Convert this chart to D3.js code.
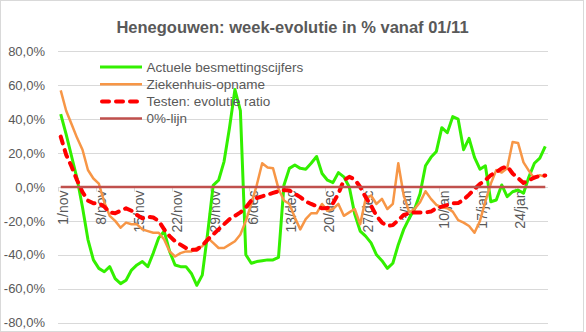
<!DOCTYPE html>
<html><head><meta charset="utf-8">
<script src="https://cdn.jsdelivr.net/npm/d3@7"></script>
<style>body{margin:0;background:#fff}svg{display:block}text{font-family:"Liberation Sans",Arial,sans-serif}</style>
</head><body><svg id="c" width="586" height="332"></svg>
<script>
const categories = [
"1/nov","2/nov","3/nov","4/nov","5/nov","6/nov","7/nov","8/nov","9/nov","10/nov",
"11/nov","12/nov","13/nov","14/nov","15/nov","16/nov","17/nov","18/nov","19/nov","20/nov",
"21/nov","22/nov","23/nov","24/nov","25/nov","26/nov","27/nov","28/nov","29/nov","30/nov",
"1/dec","2/dec","3/dec","4/dec","5/dec","6/dec","7/dec","8/dec","9/dec","10/dec",
"11/dec","12/dec","13/dec","14/dec","15/dec","16/dec","17/dec","18/dec","19/dec","20/dec",
"21/dec","22/dec","23/dec","24/dec","25/dec","26/dec","27/dec","28/dec","29/dec","30/dec","31/dec",
"1/jan","2/jan","3/jan","4/jan","5/jan","6/jan","7/jan","8/jan","9/jan","10/jan",
"11/jan","12/jan","13/jan","14/jan","15/jan","16/jan","17/jan","18/jan","19/jan","20/jan",
"21/jan","22/jan","23/jan","24/jan","25/jan","26/jan","27/jan","28/jan","29/jan"];
const tickLabels = ["1/nov","8/nov","15/nov","22/nov","29/nov","6/dec","13/dec","20/dec","27/dec","3/jan","10/jan","17/jan","24/jan"];
const yTicks = [-80,-60,-40,-20,0,20,40,60,80];
const seriesNames = ["Actuele besmettingscijfers","Ziekenhuis-opname","Testen: evolutie ratio","0%-lijn"];

const besmetting = [43,31,18,5,-12,-31,-43,-48,-50,-47, -54,-57,-55,-49,-46,-44,-47,-39,-30,-26,
 -38,-46,-47,-47,-51,-58,-52,-27,1,4, 15,35,57.5,45,-40,-45,-44,-43.5,-43,-43,
 -41.5,1,11,13,11,10.5,14,18,8,4, 2.6,8.5,6,0,-16,-26,-29,-33,-40,-43.5,
 -48,-45,-34,-25,-18.5,-13,-4,12.5,17.5,21, 35,32,41.5,40,22,28.7,17.5,10.5,12.5,-8.7,
 -7.7,1.2,-5.7,-2.8,-1.8,-3.7,6,14,17,24];
const ziekenhuis = [57,45,37,29,22,10,5,2,-9,-17, -20,-24,-21,-22,-22,-25,-26,-27,-27,-31,
 -38,-41,-39,-38,-38,-36,-35,-30,-33,-36, -36,-34,-32,-28,-20,-10,1,14,11.5,11,
 -1,-8,-10,-18,-25,-19,-15.5,-15.5,-10,-14, -13,-10,-17,-15,-13,-22,-7,-5,-10,-7,
 -13,-10,14,-5,-15,-13,-9,-2.5,-7,-10.5, -12,-12.5,-14.5,-19.5,-21,-23,-27,-20,-8.5,2,
 10,8.5,11,26.5,26,14.5,9.5,5,7,6];
const testen = [29.7,19,12,4,-3,-8,-9.6,-9.6,-11.6,-15, -15.5,-14,-12.6,-14,-16.5,-18.5,-17.5,-18,-20,-25,
 -29,-32,-34,-36,-37,-37,-34.5,-31,-28,-25, -22,-19,-17,-15,-12,-8,-6.5,-5.5,-4.5,-3.5,
 -2.5,-1.8,-2,-4,-6,-8.5,-10,-11.3,-12.6,-12.4, -9.6,-4,4,6,4.5,0,-6,-11,-17,-21,
 -23,-22.5,-19.5,-16.5,-15.5,-15,-15,-15,-14.5,-12.5, -11.6,-10.6,-9.6,-9.5,-7.5,-4.5,-1.2,1.8,4,7,
 8.8,11,12.2,8,5.2,2.4,3.9,5.6,6.5,6.8];
const nulLijn = [0,0,0,0,0,0,0,0,0,0, 0,0,0,0,0,0,0,0,0,0, 0,0,0,0,0,0,0,0,0,0,
 0,0,0,0,0,0,0,0,0,0, 0,0,0,0,0,0,0,0,0,0, 0,0,0,0,0,0,0,0,0,0,
 0,0,0,0,0,0,0,0,0,0, 0,0,0,0,0,0,0,0,0,0, 0,0,0,0,0,0,0,0,0,0];

const TXT = "#595959", GRID = "#d9d9d9";
const svg = d3.select("#c");
const x = d3.scaleBand().domain(categories).range([58, 548]).padding(0);
const y = d3.scaleLinear().domain([-80, 80]).range([322.6, 51.4]);
const xc = d => x(d) + x.bandwidth() / 2;

svg.append("rect").attr("x",0.5).attr("y",0.5).attr("width",583).attr("height",331)
  .attr("fill","#fff").attr("stroke",GRID);

// title
svg.append("text").attr("x",292.5).attr("y",33).attr("text-anchor","middle")
  .attr("font-size","16.5px").attr("font-weight","bold").attr("fill",TXT)
  .text("Henegouwen: week-evolutie in % vanaf 01/11");

// gridlines
svg.append("g").selectAll("line").data(yTicks).join("line")
  .attr("x1",58).attr("x2",548).attr("y1",d=>Math.round(y(d))+0.5).attr("y2",d=>Math.round(y(d))+0.5)
  .attr("stroke",GRID).attr("stroke-width",1);

// y axis
const fmt = v => (v < 0 ? "-" : "") + Math.abs(v).toFixed(1).replace(".", ",") + "%";
const ya = svg.append("g").attr("transform","translate(58,0)")
  .call(d3.axisLeft(y).tickValues(yTicks).tickFormat(fmt).tickSize(0).tickPadding(13));
ya.select(".domain").remove();
ya.selectAll("text").attr("font-size","13px").attr("fill",TXT).attr("font-family",null);

// x axis (at 0)
const y0 = Math.round(y(0)) + 0.5;
svg.append("line").attr("x1",58).attr("x2",548).attr("y1",y0).attr("y2",y0).attr("stroke",GRID);
svg.append("g").selectAll("line").data(tickLabels).join("line")
  .attr("x1",d=>Math.round(x(d))+0.5).attr("x2",d=>Math.round(x(d))+0.5)
  .attr("y1",y0).attr("y2",y0+4).attr("stroke",GRID);
const xa = svg.append("g").attr("transform",`translate(0,${y0})`)
  .call(d3.axisBottom(x).tickValues(tickLabels).tickSize(0));
xa.select(".domain").remove();
xa.selectAll("text").attr("font-size","14px").attr("fill",TXT).attr("font-family",null)
  .attr("text-anchor","end").attr("y",0).attr("dy","0.35em")
  .attr("transform","translate(2,3) rotate(-90)");

// series
const line = d3.line().x((d,i)=>xc(categories[i])).y(d=>y(d));
const styles = [
  {data: besmetting, color:"#33f000", w:3, dash:null},
  {data: ziekenhuis, color:"#f79646", w:2.5, dash:null},
  {data: testen, color:"#ff0000", w:4, dash:"7,7"},
  {data: nulLijn, color:"#c0504d", w:2.5, dash:null}
];
styles.forEach(s => {
  svg.append("path").datum(s.data).attr("d", line).attr("fill","none")
    .attr("stroke", s.color).attr("stroke-width", s.w)
    .attr("stroke-linejoin","round").attr("stroke-linecap", s.dash ? "round" : "butt")
    .attr("stroke-dasharray", s.dash);
});

// legend
const lg = svg.append("g");
seriesNames.forEach((n, k) => {
  const yy = 67 + k * 17.2;
  const s = styles[k];
  lg.append("line").attr("x1",100 + (s.dash?2:0)).attr("x2",142 - (s.dash?2:0)).attr("y1",yy).attr("y2",yy)
    .attr("stroke",s.color).attr("stroke-width",s.w)
    .attr("stroke-linecap", s.dash ? "round" : "butt").attr("stroke-dasharray", s.dash);
  lg.append("text").attr("x",146.5).attr("y",yy).attr("dy","0.35em")
    .attr("font-size","13.5px").attr("fill",TXT).text(n);
});
</script></body></html>
